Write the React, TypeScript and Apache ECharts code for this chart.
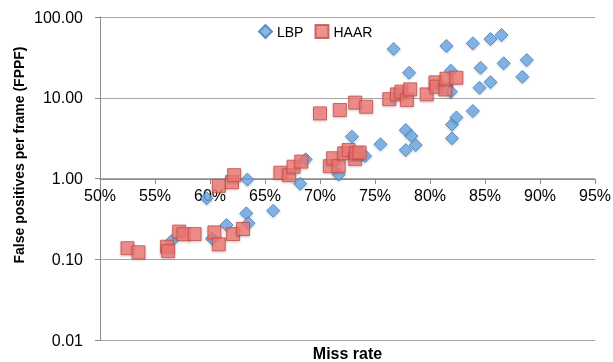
import React, { useEffect, useRef } from "react";
import * as echarts from "echarts";

const xTicks = [50, 55, 60, 65, 70, 75, 80, 85, 90, 95];
const yTicks = [0.01, 0.1, 1, 10, 100];
const yTitle = "False positives per frame (FPPF)";
const xTitle = "Miss rate";

const lbpPoints: [number, number][] = [
  [56.5, 0.168], [59.7, 0.57], [60.2, 0.18], [61.5, 0.265], [63.3, 0.37],
  [63.5, 0.28], [63.4, 0.97], [65.75, 0.4], [68.2, 0.86], [68.7, 1.73],
  [71.7, 1.12], [72.9, 3.3], [74.1, 1.9], [75.5, 2.65], [76.7, 40.2],
  [77.8, 3.98], [78.3, 3.36], [78.7, 2.6], [77.8, 2.25], [78.1, 20.4],
  [81.5, 43.8], [81.9, 21.6], [81.9, 11.9], [82.0, 4.65], [82.4, 5.7],
  [82.0, 3.15], [83.9, 47.2], [83.9, 6.85], [84.6, 23.5], [84.5, 13.3],
  [85.5, 15.6], [85.5, 53.3], [86.5, 59.8], [86.7, 26.7], [88.4, 18.2],
  [88.8, 29.3],
];

const haarPoints: [number, number][] = [
  [52.5, 0.137], [53.5, 0.122], [56.1, 0.143], [56.2, 0.126], [57.2, 0.22],
  [57.6, 0.204], [58.6, 0.205], [60.4, 0.215], [60.8, 0.153], [62.1, 0.205],
  [63.0, 0.237], [60.8, 0.81], [62.0, 0.9], [62.2, 1.1], [66.4, 1.18],
  [67.2, 1.1], [67.6, 1.4], [68.3, 1.62], [70.0, 6.4], [70.9, 1.42],
  [71.2, 1.78], [71.7, 1.42], [71.8, 7.05], [72.2, 2.05], [72.6, 2.25],
  [73.2, 1.75], [73.3, 2.05], [73.6, 2.1], [73.2, 8.7], [74.2, 7.75],
  [76.3, 9.6], [77.0, 11.0], [77.4, 11.9], [77.9, 9.4], [78.2, 12.7],
  [79.7, 11.0], [80.5, 15.5], [80.6, 13.7], [81.4, 12.7], [81.5, 17.2],
  [82.4, 17.7],
];

export default function App() {
  const ref = useRef<HTMLDivElement>(null);
  useEffect(() => {
    document.body.style.margin = "0";
    if (!ref.current) return;
    const chart = echarts.init(ref.current, undefined, { renderer: "svg" });
    const font = "'Liberation Sans', Arial, sans-serif";
    chart.setOption({
      animation: false,
      textStyle: { fontFamily: font },
      grid: { left: 100, right: 18, top: 17, bottom: 22, containLabel: false, outerBoundsMode: "none" },
      legend: {
        left: 253,
        top: 19,
        itemWidth: 13,
        itemHeight: 13,
        itemGap: 11,
        textStyle: { fontSize: 14, color: "#000", fontFamily: font },
        data: [
          { name: "LBP", icon: "diamond" },
          { name: "HAAR", icon: "rect" },
        ],
      },
      graphic: [
        {
          type: "text",
          x: 19,
          y: 155,
          rotation: Math.PI / 2,
          style: {
            text: yTitle,
            fontSize: 14,
            fontWeight: "bold",
            fontFamily: font,
            fill: "#000",
            align: "center",
            verticalAlign: "middle",
          },
        },
      ],
      xAxis: [
        {
          type: "value",
          min: xTicks[0],
          max: xTicks[xTicks.length - 1],
          interval: 5,
          position: "bottom",
          offset: -161,
          axisLine: { show: true, lineStyle: { color: "#8c8c8c", width: 1 } },
          axisTick: { show: true, length: 5, lineStyle: { color: "#8c8c8c" } },
          axisLabel: {
            formatter: (v: number) => v + "%",
            fontSize: 16,
            color: "#000",
            margin: 8,
            fontFamily: font,
          },
          splitLine: { show: false },
        },
        {
          type: "value",
          min: xTicks[0],
          max: xTicks[xTicks.length - 1],
          interval: 5,
          position: "bottom",
          axisLine: { show: false },
          axisTick: { show: false },
          axisLabel: { show: false },
          splitLine: { show: false },
          name: xTitle,
          nameLocation: "middle",
          nameGap: 5,
          nameTextStyle: { fontSize: 16, fontWeight: "bold", color: "#000", fontFamily: font },
        },
      ],
      yAxis: {
        type: "log",
        logBase: 10,
        min: yTicks[0],
        max: yTicks[yTicks.length - 1],
        axisLine: { show: true, lineStyle: { color: "#8c8c8c", width: 1 } },
        axisTick: { show: true, length: 5, lineStyle: { color: "#8c8c8c" } },
        axisLabel: {
          formatter: (v: number) => v.toFixed(2),
          fontSize: 16,
          color: "#000",
          margin: 17,
          fontFamily: font,
        },
        splitLine: { show: true, lineStyle: { color: "#a6a6a6", width: 1 } },
      },
      series: [
        {
          name: "LBP",
          type: "scatter",
          symbol: "diamond",
          symbolSize: 13,
          data: lbpPoints,
          itemStyle: {
            color: "#6aa5de",
            borderColor: "#3f7cc0",
            borderWidth: 1,
            shadowBlur: 2,
            shadowColor: "rgba(0,0,0,0.25)",
            shadowOffsetY: 1,
          },
        },
        {
          name: "HAAR",
          type: "scatter",
          symbol: "rect",
          symbolSize: 13,
          data: haarPoints,
          itemStyle: {
            color: "#ec7672",
            borderColor: "#c04c48",
            borderWidth: 1,
            shadowBlur: 2,
            shadowColor: "rgba(0,0,0,0.25)",
            shadowOffsetY: 1,
          },
        },
      ],
    });
    return () => chart.dispose();
  }, []);
  return (
    <div
      ref={ref}
      style={{ width: 613, height: 362, position: "fixed", left: 0, top: 0 }}
    />
  );
}
